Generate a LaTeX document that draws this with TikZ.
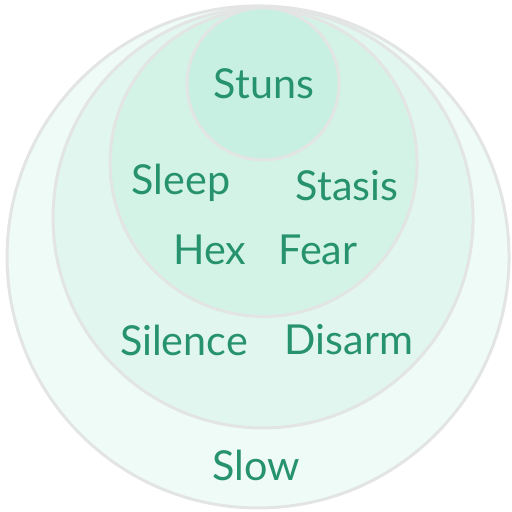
\documentclass[tikz,border=0pt]{standalone}
\usepackage{fontspec}
\setmainfont{Lato}
\definecolor{ringline}{RGB}{226,229,227}
\definecolor{ringA}{RGB}{239,251,246}
\definecolor{ringB}{RGB}{224,246,238}
\definecolor{ringC}{RGB}{211,243,231}
\definecolor{ringD}{RGB}{200,240,226}
\definecolor{labelgreen}{RGB}{38,146,110}
\tikzset{
  ring/.style={draw=ringline,line width=1.7pt},
  effect/.style={text=labelgreen,font=\fontsize{23.5}{27}\selectfont,inner sep=0pt}
}
\begin{document}
\begin{tikzpicture}[scale=0.02,line join=round,line cap=round]
			\useasboundingbox (0,0) rectangle (512,512);
			% 四层圆的圆心
			\coordinate (Oa) at (258,255);
			\coordinate (Ob) at (263,294);
			\coordinate (Oc) at (263.5,349);
			\coordinate (Od) at (263,428);

			% 由外到内
			\filldraw[ring,fill=ringA] (Oa) circle (251);
			\filldraw[ring,fill=ringB] (Ob) circle (210);
			\filldraw[ring,fill=ringC] (Oc) circle (153.5);
			\filldraw[ring,fill=ringD] (Od) circle (76);

			% 各层标注
			\node[effect] (stuns) at (264,428) {Stuns};
			\node[effect] (sleep) at (181,329) {Sleep};
			\node[effect] (stasis) at (347,326) {Stasis};
			\node[effect] (hex) at (210,262) {Hex};
			\node[effect] (fear) at (318,262) {Fear};
			\node[effect] (silence) at (184,172) {Silence};
			\node[effect] (disarm) at (349,172) {Disarm};
			\node[effect] (slow) at (256,47) {Slow};
		\end{tikzpicture}
\end{document}
